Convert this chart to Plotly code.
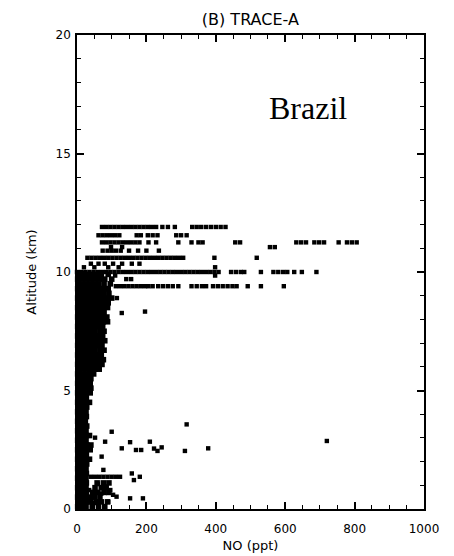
import plotly.graph_objects as go

# ---------------- data (NO in pptv, altitude in km) ----------------
# Upper-troposphere rows: one altitude per row, NO values on that row
upper_alt = [11.9, 11.55, 11.25, 11.05, 10.9, 10.6, 10.35, 10.2, 10.0, 9.85, 9.4]
upper_no = [
    [72, 84, 96, 108, 120, 132, 144, 156, 168, 180, 192, 204, 216, 228, 246, 262, 282,
     332, 345, 358, 372, 386, 400, 414, 428],
    [62, 74, 86, 98, 110, 122, 172, 184, 204, 218, 232, 286, 300, 316],
    [72, 84, 96, 108, 120, 132, 144, 156, 168, 180, 206, 228, 292, 330, 350, 362, 456, 470,
     632, 646, 660, 684, 698, 712, 754, 778, 792, 806],
    [98, 130, 556, 570],
    [74, 88, 100, 112, 126, 150, 176, 200, 236],
    [30, 42, 54, 66, 78, 90, 102, 114, 126, 138, 150, 162, 174, 186, 198, 210, 222, 234,
     246, 258, 270, 282, 294, 306, 396, 518],
    [40, 62, 80, 104, 130, 158, 180],
    [20, 50, 90, 120, 398],
    [0, 12, 24, 36, 48, 60, 72, 84, 96, 108, 120, 132, 144, 156, 168, 180, 192, 204, 216,
     228, 240, 252, 264, 276, 288, 300, 312, 324, 336, 348, 360, 372, 384, 396, 408, 444,
     458, 472, 482, 530, 566, 580, 594, 606, 626, 648, 690],
    [60, 110, 398],
    [112, 124, 136, 148, 160, 172, 184, 196, 206, 218, 234, 248, 262, 276, 292, 330, 345,
     360, 372, 392, 406, 420, 434, 448, 460, 492, 530, 596],
]

# Dense boundary-layer to mid-troposphere column near the y axis
col_alt = [0.1, 0.3, 0.5, 0.7, 0.9, 1.1, 1.3, 1.5, 1.7, 1.9, 2.1, 2.3, 2.5, 2.7, 2.9,
           3.1, 3.3, 3.5, 3.7, 3.9, 4.1, 4.3, 4.5, 4.7, 4.9, 5.1, 5.3, 5.5, 5.7, 5.9,
           6.1, 6.3, 6.5, 6.7, 6.9, 7.1, 7.3, 7.5, 7.7, 7.9, 8.1, 8.3, 8.5, 8.7, 8.9,
           9.1, 9.3, 9.5, 9.7, 9.9]
col_no = [
    [2, 14, 26, 44, 62, 80],
    [4, 16, 28, 40, 56, 70, 88],
    [2, 13, 25, 36, 50, 66],
    [3, 15, 27, 45, 60, 78, 92],
    [2, 14, 26, 52, 70, 84],
    [3, 15, 27, 58, 76, 92],
    [2, 14, 26],
    [3, 15, 27],
    [2, 14, 26],
    [4, 16, 28],
    [2, 14, 26, 36],
    [3, 15, 27],
    [2, 14, 26, 38],
    [4, 16, 28, 40],
    [2, 14, 26],
    [3, 15, 27, 36],
    [2, 14, 26],
    [4, 16, 28],
    [2, 14, 24],
    [3, 15, 27],
    [2, 14, 26],
    [4, 16, 28],
    [2, 14, 26, 36],
    [3, 15, 27],
    [2, 14, 26, 38],
    [4, 16, 28, 40],
    [2, 14, 26, 38],
    [3, 15, 27, 40],
    [2, 14, 26, 38, 48],
    [4, 16, 28, 40, 52, 64],
    [2, 14, 26, 38, 50, 62, 72],
    [3, 15, 27, 39, 51, 63, 76],
    [2, 14, 26, 38, 50, 62, 70],
    [4, 16, 28, 40, 52, 66, 78],
    [2, 14, 26, 38, 50, 62, 72],
    [3, 15, 27, 39, 51, 64, 80],
    [2, 14, 26, 38, 50, 62, 74],
    [4, 16, 28, 40, 52, 66, 78],
    [2, 14, 26, 38, 50, 62, 74],
    [3, 15, 27, 39, 51, 63, 76, 88],
    [2, 14, 26, 38, 50, 62, 74, 86],
    [4, 16, 28, 40, 52, 64, 78],
    [2, 14, 26, 38, 50, 62, 74, 88],
    [3, 15, 27, 39, 51, 63, 76, 90],
    [2, 14, 26, 38, 50, 62, 74, 86, 100],
    [4, 16, 28, 40, 52, 64, 78, 92],
    [2, 14, 26, 38, 50, 62, 76, 90],
    [3, 15, 27, 39, 51, 63, 78, 96],
    [2, 14, 26, 38, 50, 64, 80, 100],
    [4, 16, 28, 40, 54, 70, 90],
]

# Scattered points (lower troposphere and outliers beside the column)
low_no = [316, 100, 52, 81, 153, 210, 129, 170, 185, 222, 232, 244, 311, 378, 720, 71,
          76, 40, 52, 64, 76, 88, 100, 112, 124, 158, 181, 164, 60, 84, 96, 70, 104, 114,
          153, 190, 40, 52, 90, 35, 129, 196, 115, 142, 156]
low_alt = [3.57, 3.26, 3.01, 2.84, 2.82, 2.84, 2.56, 2.49, 2.49, 2.55, 2.45, 2.6, 2.45,
           2.56, 2.87, 2.21, 1.65, 1.36, 1.36, 1.36, 1.36, 1.36, 1.36, 1.36, 1.36, 1.5,
           1.36, 1.22, 1.05, 0.95, 0.8, 0.65, 0.6, 0.52, 0.45, 0.45, 0.35, 0.25, 0.3, 0.8,
           8.27, 8.33, 8.9, 9.7, 9.7]

x_ticks = [0, 200, 400, 600, 800, 1000]
y_ticks = [0, 5, 10, 15, 20]
x_range = [0, 1000]
y_range = [0, 20]

# ---------------- assemble ----------------
ux, uy = [], []
for a, row in zip(upper_alt, upper_no):
    ux += row
    uy += [a] * len(row)
ux += low_no
uy += low_alt

cx, cy = [], []
for a, row in zip(col_alt, col_no):
    cx += row
    cy += [a] * len(row)

fig = go.Figure()
fig.add_trace(go.Scatter(
    x=cx, y=cy, mode="markers", cliponaxis=False,
    marker=dict(symbol="square", size=5.6, color="black", line=dict(width=0)),
    showlegend=False, hoverinfo="skip",
))
fig.add_trace(go.Scatter(
    x=ux, y=uy, mode="markers", cliponaxis=False,
    marker=dict(symbol="square", size=4.4, color="black", line=dict(width=0)),
    showlegend=False, hoverinfo="skip",
))
# invisible trace to carry the mirrored (top/right) tick axes
fig.add_trace(go.Scatter(
    x=[x_range[0]], y=[y_range[0]], xaxis="x2", yaxis="y2", mode="markers",
    marker=dict(opacity=0), showlegend=False, hoverinfo="skip",
))

tick_common = dict(
    ticks="inside", ticklen=7, tickwidth=1.5, tickcolor="black",
    showgrid=False, zeroline=False, automargin=False,
)
minor_x = dict(dtick=50, ticks="inside", ticklen=4, tickcolor="black", tickwidth=1.3)
minor_y = dict(dtick=1, ticks="inside", ticklen=4, tickcolor="black", tickwidth=1.3)
label_font = dict(family="DejaVu Sans", size=12, color="black")
title_font = dict(family="DejaVu Sans", size=13, color="black")

fig.update_layout(
    width=454, height=556,
    margin=dict(l=77, r=30, t=35, b=47, autoexpand=False),
    paper_bgcolor="white", plot_bgcolor="white",
    title=dict(text="(B) TRACE-A", x=0.5515, xanchor="center", y=0.965, yanchor="middle",
               font=dict(family="DejaVu Sans", size=16, color="black")),
    xaxis=dict(
        range=x_range, tickvals=x_ticks, ticktext=[str(v) for v in x_ticks],
        showline=True, linecolor="black", linewidth=1.5, mirror=True,
        minor=minor_x, tickfont=label_font, ticklabelstandoff=8,
        title=dict(text="NO (ppt)", font=title_font, standoff=6),
        **tick_common,
    ),
    yaxis=dict(
        range=y_range, tickvals=y_ticks, ticktext=[str(v) for v in y_ticks],
        showline=True, linecolor="black", linewidth=1.5, mirror=True,
        minor=minor_y, tickfont=label_font, ticklabelstandoff=2,
        title=dict(text="Altitude (km)", font=title_font, standoff=16),
        **tick_common,
    ),
    xaxis2=dict(
        range=x_range, overlaying="x", side="top", tickvals=x_ticks,
        showticklabels=False, showline=False, minor=minor_x,
        **tick_common,
    ),
    yaxis2=dict(
        range=y_range, overlaying="y", side="right", tickvals=y_ticks,
        showticklabels=False, showline=False, minor=minor_y,
        **tick_common,
    ),
)

fig.add_annotation(
    x=667, y=17.76, xref="x", yref="y", text="Brazil", showarrow=False,
    yanchor="top", font=dict(family="Liberation Serif", size=32, color="black"),
)

fig.write_html("out.html")
